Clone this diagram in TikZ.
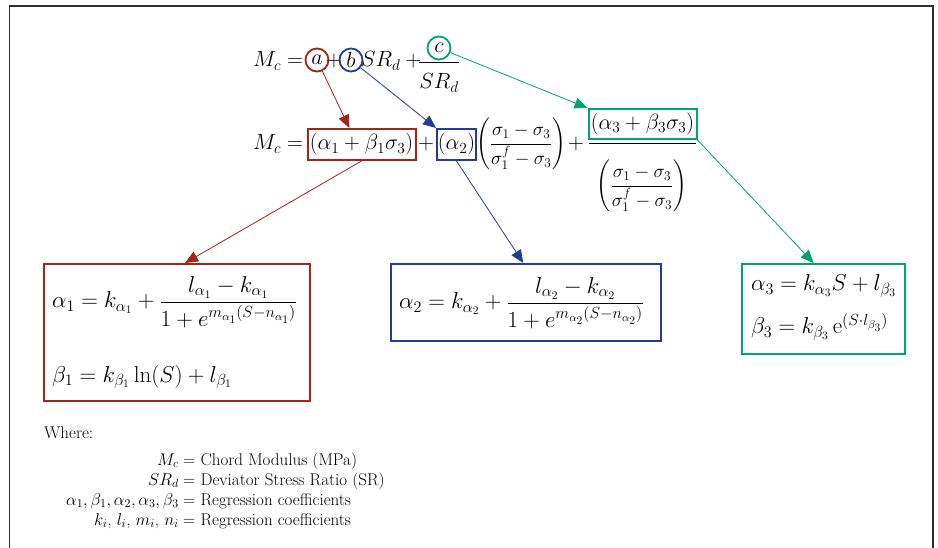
\RequirePackage{fix-cm}
\documentclass[tikz,border=0pt]{standalone}
\usepackage{amsmath}
\usepackage{fontspec}
\usetikzlibrary{arrows.meta,calc}
\definecolor{cred}{RGB}{165,35,25}
\definecolor{cblue}{RGB}{35,60,155}
\definecolor{cgreen}{RGB}{0,165,110}
\definecolor{cframe}{RGB}{45,45,45}
\tikzset{
  eq/.style={font=\fontsize{22}{26}\selectfont, inner sep=0pt},
  eqs/.style={font=\fontsize{19}{23}\selectfont, inner sep=0pt},
  eql/.style={font=\fontsize{23}{27}\selectfont, inner sep=0pt},
  txt/.style={font=\fontsize{17}{20}\selectfont, inner sep=0pt},
  ring/.style={circle, draw=#1, line width=1.8pt, minimum size=23pt, inner sep=0pt, font=\fontsize{22}{26}\selectfont},
  hbox/.style={draw=#1, line width=2pt, inner sep=0pt, font=\fontsize{22}{26}\selectfont},
  lbox/.style={draw=#1, line width=2pt, inner sep=0pt, anchor=north west},
  arr/.style={draw=#1, line width=0.8pt, -{Triangle[length=13pt,width=11pt]}},
  bar/.style={line width=0.9pt}
}
\begin{document}
\begin{tikzpicture}[x=1pt,y=-1pt]
\useasboundingbox (0,0) rectangle (938,548);
% frame
\draw[cframe, line width=1.3pt] (9.5,548) -- (9.5,6) -- (933,6) -- (933,548);

% top equation
\node[eq, anchor=base west] (mc1) at (253,67) {$M_c =$};
\node[ring=cred] (ca) at (317,60) {$a$};
\node[eq, anchor=base] (p1) at (334,67) {$+$};
\node[ring=cblue] (cb) at (351,60) {$b$};
\node[eq, anchor=base west] (srd) at (361,67) {$SR_d+{}$};
\node[ring=cgreen] (cc) at (439,48) {$c$};
\coordinate (b1l) at (419,62);
\coordinate (b1r) at (459,62);
\draw[bar] (b1l) -- (b1r);
\node[eq, anchor=base] (den1) at (439,89) {$SR_d$};

% second equation
\node[eq, anchor=base west] (mc2) at (253,150) {$M_c =$};
\node[hbox=cred, minimum width=108pt, minimum height=31pt] (rb) at (361.5,144.5) {$(\alpha_1 + \beta_1\sigma_3)$};
\node[eq, anchor=base] (p2) at (426,150) {$+$};
\node[hbox=cblue, minimum width=39pt, minimum height=31pt] (bb) at (456.5,144.5) {$(\alpha_2)$};
\node[eqs, anchor=west] (sf1) at (476,144) {$\left(\dfrac{\sigma_1 - \sigma_3}{\sigma_1^f - \sigma_3}\right)$};
\node[eq, anchor=base] (p3) at (576,150) {$+$};
\node[hbox=cgreen, minimum width=108pt, minimum height=30pt] (gb) at (642.5,124) {$(\alpha_3 + \beta_3\sigma_3)$};
\coordinate (b2l) at (589,143);
\coordinate (b2r) at (696,143);
\draw[bar] (b2l) -- (b2r);
\node[eqs] (sf2) at (642,186) {$\left(\dfrac{\sigma_1 - \sigma_3}{\sigma_1^f - \sigma_3}\right)$};

% lower boxes
\node[lbox=cred, minimum width=266pt, minimum height=137pt] (rl) at (43,263) {};
\node[eql, anchor=base west] (fa1) at (52,308) {$\alpha_1 = k_{\alpha_1} + \dfrac{l_{\alpha_1} - k_{\alpha_1}}{1 + e^{m_{\alpha_1}(S - n_{\alpha_1})}}$};
\node[eql, anchor=base west] (fb1) at (52,382) {$\beta_1 = k_{\beta_1}\ln(S) + l_{\beta_1}$};

\node[lbox=cblue, minimum width=270pt, minimum height=77pt] (bl) at (390,263) {};
\node[eql, anchor=base west] (fa2) at (399,309) {$\alpha_2 = k_{\alpha_2} + \dfrac{l_{\alpha_2} - k_{\alpha_2}}{1 + e^{m_{\alpha_2}(S - n_{\alpha_2})}}$};

\node[lbox=cgreen, minimum width=163pt, minimum height=90pt] (gl) at (741,263) {};
\node[eql, anchor=base west] (fa3) at (751,291) {$\alpha_3 = k_{\alpha_3}S + l_{\beta_3}$};
\node[eql, anchor=base west] (fb3) at (751,334) {$\beta_3 = k_{\beta_3}\,\mathrm{e}^{(S\cdot l_{\beta_3})}$};

% arrows
\draw[arr=cred] (ca) -- ($(rb.north west)!0.39!(rb.north east)$);
\draw[arr=cblue] (cb) -- (bb.north west);
\draw[arr=cgreen] (cc) -- (gb.north west);
\draw[arr=cred] (rb.south) -- ($(rl.north west)!0.53!(rl.north east)$);
\draw[arr=cblue] (bb.south) -- ($(bl.north west)!0.49!(bl.north east)$);
\draw[arr=cgreen] (gb.south east) -- ($(gl.north west)!0.44!(gl.north east)$);

% where block
\node[txt, anchor=base west] (wh) at (44,438) {Where:};
\node[txt, anchor=base east] (w1l) at (179,465) {$M_c$};
\node[txt, anchor=base west] (w1r) at (183,465) {$=$ Chord Modulus (MPa)};
\node[txt, anchor=base east] (w2l) at (179,485) {$SR_d$};
\node[txt, anchor=base west] (w2r) at (183,485) {$=$ Deviator Stress Ratio (SR)};
\node[txt, anchor=base east] (w3l) at (179,505) {$\alpha_1,\beta_1,\alpha_2,\alpha_3,\beta_3$};
\node[txt, anchor=base west] (w3r) at (183,505) {$=$ Regression coefficients};
\node[txt, anchor=base east] (w4l) at (179,525) {$k_i$, $l_i$, $m_i$, $n_i$};
\node[txt, anchor=base west] (w4r) at (183,525) {$=$ Regression coefficients};
\end{tikzpicture}
\end{document}
